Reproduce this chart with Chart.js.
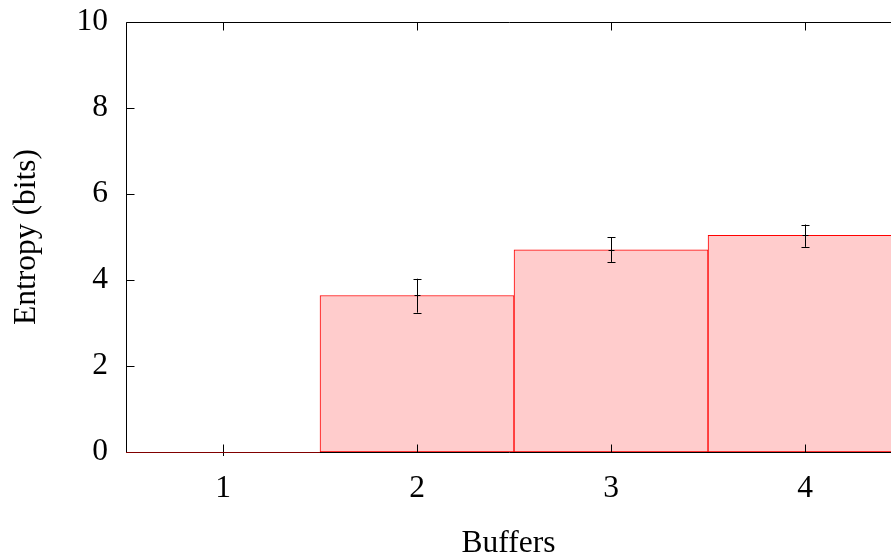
<!DOCTYPE html>
<html>
<head>
<meta charset="utf-8">
<script src="https://cdn.jsdelivr.net/npm/chart.js@4/dist/chart.umd.min.js"></script>
<style>
  body { margin: 0; background: #fff; }
  canvas { display: block; }
</style>
</head>
<body>
<canvas id="Chart_Entropy" width="891" height="560"></canvas>
<script>
// data
var xCats = [1, 2, 3, 4];
var entropyVals = [0, 3.64, 4.70, 5.04];
var errLow = [0, 3.24, 4.42, 4.77];
var errHigh = [0, 4.03, 5.00, 5.29];
var yTicks = [0, 2, 4, 6, 8, 10];

var FontName = "'Liberation Serif', 'Times New Roman', serif";
var FSize = 31.5;

// gnuplot style frame, inward ticks and error bars
var frameLayer = {
    id: 'frameLayer',
    afterDatasetsDraw: function (chart) {
        var ctx = chart.ctx; var A = chart.chartArea;
        var xs = chart.scales.x; var ys = chart.scales.y;
        ctx.save();
        ctx.strokeStyle = "#000"; ctx.lineWidth = 1;

        // error bars
        for (var i = 0; i < xCats.length; i++) {
            var px = Math.round(xs.getPixelForValue(xCats[i])) + 0.5;
            var yLo = ys.getPixelForValue(errLow[i]);
            var yHi = ys.getPixelForValue(errHigh[i]);
            var yV = ys.getPixelForValue(entropyVals[i]);
            ctx.beginPath();
            ctx.moveTo(px, yLo); ctx.lineTo(px, yHi);
            ctx.moveTo(px - 4, Math.round(yLo) + 0.5); ctx.lineTo(px + 4, Math.round(yLo) + 0.5);
            ctx.moveTo(px - 4, Math.round(yHi) + 0.5); ctx.lineTo(px + 4, Math.round(yHi) + 0.5);
            // point marker
            ctx.moveTo(px - 3, Math.round(yV) + 0.5); ctx.lineTo(px + 3, Math.round(yV) + 0.5);
            ctx.moveTo(px, yV - 3); ctx.lineTo(px, yV + 4);
            ctx.stroke();
        }

        // frame: left, bottom, top
        var L = Math.round(A.left) + 0.5, B = Math.round(A.bottom) + 0.5, T = Math.round(A.top) + 0.5;
        ctx.beginPath();
        ctx.moveTo(A.right + 10, T); ctx.lineTo(L, T); ctx.lineTo(L, B); ctx.lineTo(A.right + 10, B);
        ctx.stroke();

        // inward ticks
        ctx.beginPath();
        for (var j = 0; j < yTicks.length; j++) {
            var py = Math.round(ys.getPixelForValue(yTicks[j])) + 0.5;
            ctx.moveTo(L, py); ctx.lineTo(L + 8, py);
        }
        for (var k = 0; k < xCats.length; k++) {
            var tx = Math.round(xs.getPixelForValue(xCats[k])) + 0.5;
            ctx.moveTo(tx, B); ctx.lineTo(tx, B - 8);
            ctx.moveTo(tx, T); ctx.lineTo(tx, T + 8);
        }
        ctx.stroke();

        // zero-height bar still shows its red outline on the axis
        for (var m = 0; m < xCats.length; m++) {
            if (entropyVals[m] == 0) {
                var x0 = xs.getPixelForValue(xCats[m] - 0.5), x1 = xs.getPixelForValue(xCats[m] + 0.5);
                ctx.strokeStyle = "rgba(160,0,0,0.8)";
                ctx.beginPath(); ctx.moveTo(x0, B); ctx.lineTo(x1, B); ctx.stroke();
            }
        }
        ctx.restore();
    }
};

var ctx = document.getElementById('Chart_Entropy');

var chart = new Chart(ctx, {
    type: 'bar',
    data: {
        datasets: [{
            label: 'Entropy',
            data: xCats.map(function (c, i) { return { x: c, y: entropyVals[i] }; }),
            backgroundColor: '#ffcccc',
            borderColor: '#ff0000',
            borderWidth: 1,
            borderSkipped: false,
            barPercentage: 1.0,
            categoryPercentage: 1.0
        }]
    },
    options: {
        responsive: false,
        animation: false,
        layout: { padding: { top: 22, right: 0, left: 0, bottom: 0 } },
        plugins: { legend: { display: false }, tooltip: { enabled: false } },
        scales: {
            x: {
                type: 'linear',
                offset: false,
                min: 0.5,
                max: 4.443,
                afterBuildTicks: function (scale) { scale.ticks = xCats.map(function (v) { return { value: v }; }); },
                afterFit: function (scale) { scale.height = 108; scale.paddingLeft = 0; scale.paddingRight = 0; },
                grid: { display: false, drawTicks: false, offset: false },
                border: { display: false },
                ticks: { color: '#000', padding: 18, font: { family: FontName, size: FSize } },
                title: { display: true, text: 'Buffers', color: '#000', padding: { top: 7, bottom: -3 }, font: { family: FontName, size: FSize } }
            },
            y: {
                min: 0,
                max: 10,
                afterBuildTicks: function (scale) { scale.ticks = yTicks.map(function (v) { return { value: v }; }); },
                afterFit: function (scale) { scale.width = 126; scale.paddingTop = 0; scale.paddingBottom = 0; },
                grid: { display: false, drawTicks: false },
                border: { display: false },
                ticks: { color: '#000', padding: 18, font: { family: FontName, size: FSize } },
                title: { display: true, text: 'Entropy (bits)', color: '#000', padding: { top: 8, bottom: 0 }, font: { family: FontName, size: FSize } }
            }
        }
    },
    plugins: [frameLayer]
});
</script>
</body>
</html>
